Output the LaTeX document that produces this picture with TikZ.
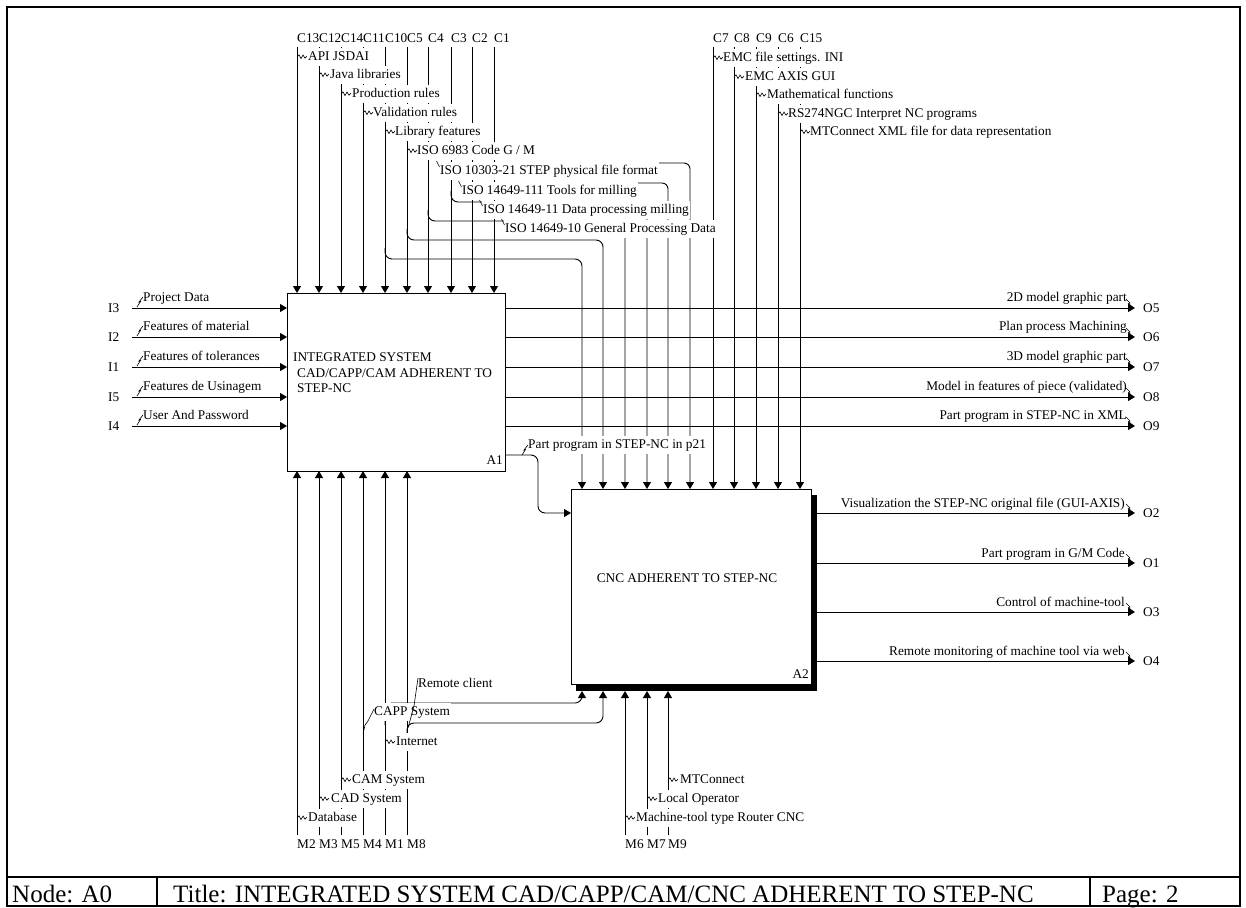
\documentclass[tikz,border=0pt]{standalone}
\usepackage{fontspec}
\setmainfont{Liberation Serif}
\usetikzlibrary{arrows.meta}
\begin{document}
\begin{tikzpicture}[x=1pt,y=-1pt,
  ln/.style={line width=0.9pt},
  arr/.style={ln,-{Triangle[length=7pt,width=8pt]}},
  txt/.style={font=\fontsize{13.3}{15}\selectfont, inner sep=0pt},
  lbl/.style={font=\fontsize{13.3}{15}\selectfont, fill=white, inner xsep=1pt, inner ysep=2pt, text height=10.5pt, text depth=3.5pt},
  foot/.style={font=\fontsize{25}{28}\selectfont, inner sep=0pt},
  sq/.style={line width=0.6pt},
  box/.style={draw, line width=1pt, fill=white, inner sep=0pt},
  zr/.pic={\draw[sq] (0,0) -- (2,-2.2) -- (4,1.6) -- (6,-2) -- (8,1.2) -- (10,-1);},
  zup/.pic={\draw[sq] (0,0) -- (3.5,-5.5) -- (2,-5) -- (6,-10);},
  zdn/.pic={\draw[sq] (0,0) -- (4,4) -- (2.5,4.5) -- (7,8.5);},
]
\useasboundingbox (0,0) rectangle (1246,907);

% ---------- sheet frame and footer ----------
\draw[line width=2pt] (7,7) rectangle (1240,906);
\draw[line width=2pt] (7,877) -- (1240,877);
\draw[line width=1.2pt] (157,877) -- (157,906) (1090,877) -- (1090,906);
\node[foot, anchor=base west] (fnode) at (12,902) {Node: A0};
\node[foot, anchor=base west] (ftitle) at (173,902) {Title: INTEGRATED SYSTEM CAD/CAPP/CAM/CNC ADHERENT TO STEP-NC};
\node[foot, anchor=base west] (fpage) at (1102,902) {Page: 2};

% ---------- activity boxes ----------
\node[box, minimum width=218pt, minimum height=178pt, anchor=north west] (A1) at (287,293) {};
\fill (576,495) rectangle (817,691);
\node[box, minimum width=240pt, minimum height=195pt, anchor=north west] (A2) at (571,489) {};

\node[txt, anchor=base west] (a1l1) at (293,361.5) {INTEGRATED SYSTEM};
\node[txt, anchor=base west] (a1l2) at (297,377) {CAD/CAPP/CAM ADHERENT TO};
\node[txt, anchor=base west] (a1l3) at (297,392.5) {STEP-NC};
\node[txt, anchor=base east] (a1id) at (503,464.5) {A1};
\node[txt] (a2t) at (687,578) {CNC ADHERENT TO STEP-NC};
\node[txt, anchor=base east] (a2id) at (809,678.5) {A2};

% ---------- controls ----------
\foreach \x/\t in {297/C13,319/C12,341/C14,363/C11,385/C10,407/C5,428/C4,451/C3,472/C2,494/C1,713/C7,734/C8,756/C9,778/C6,800/C15}
  \node[txt, anchor=base west] (hd\t) at (\x,42.5) {\t};
\foreach \x in {297,319,341,363,385,407,428,451,472,494}
  \draw[arr] (\x,47) -- (\x,293);
\foreach \x in {713,734,756,778,800}
  \draw[arr] (\x,47) -- (\x,489);

% branches of the controls towards A2
\draw[arr, rounded corners=7pt] (385,248) -- (385,259) -- (582,259) -- (582,489);
\draw[arr, rounded corners=7pt] (407,229) -- (407,240) -- (603,240) -- (603,489);
\draw[arr, rounded corners=7pt] (428,210) -- (428,221) -- (625,221) -- (625,489);
\draw[arr, rounded corners=7pt] (451,191) -- (451,202) -- (647,202) -- (647,489);
\draw[arr, rounded corners=6pt] (560,183) -- (668,183) -- (668,489);
\draw[arr, rounded corners=6pt] (560,163) -- (690,163) -- (690,489);

% control labels
\foreach \lx/\tx/\cy/\t in {297/308/56/{API JSDAI},319/330/74/{Java libraries},341/352/93/{Production rules},363/373/112/{Validation rules},385/395/131/{Library features},407/417/150/{ISO 6983 Code G / M},713/723/57/{EMC file settings. INI},734/745/76/{EMC AXIS GUI},756/767/94/{Mathematical functions},778/788/113/{RS274NGC Interpret NC programs},800/810/131/{MTConnect XML file for data representation}}
{
  \node[lbl, anchor=base west] at (\tx-1,\cy+4.5) {\t};
  \pic at (\lx,\cy+1) {zr};
}
\foreach \tx/\cy/\t in {440/170/{ISO 10303-21 STEP physical file format},462/190/{ISO 14649-111 Tools for milling},483/209/{ISO 14649-11 Data processing milling},505/228/{ISO 14649-10 General Processing Data}}
{
  \node[lbl, anchor=base west] at (\tx-1,\cy+4.5) {\t};
  \draw[sq] (\tx-3.5,\cy-9) -- (\tx-0.5,\cy-3);
}

% ---------- mechanisms ----------
\foreach \x/\t in {297/M2,319/M3,341/M5,363/M4,385/M1,407/M8,625/M6,647/M7,668/M9}
  \node[txt, anchor=base west] (hd\t) at (\x,848.5) {\t};
\foreach \x in {297,319,341,363,385,407}
  \draw[arr] (\x,835) -- (\x,471);
\foreach \x in {625,647,668}
  \draw[arr] (\x,835) -- (\x,691);
\draw[arr, rounded corners=7pt] (385,725) -- (385,703) -- (582,703) -- (582,691);
\draw[arr, rounded corners=7pt] (407,740) -- (407,723) -- (603,723) -- (603,691);

\foreach \lx/\tx/\cy/\t in {297/308/817/{Database},319/331/798/{CAD System},341/352/779/{CAM System},385/396/741/{Internet},668/680/779/{MTConnect},647/658/798/{Local Operator},625/636/817/{Machine-tool type Router CNC}}
{
  \node[lbl, anchor=base west] at (\tx-1,\cy+4.5) {\t};
  \pic at (\lx,\cy+1) {zr};
}
\node[lbl, anchor=base west] (capp) at (373,715.5) {CAPP System};
\draw[sq] (363,734) -- (365,725) -- (368,721) -- (374,709);
\node[lbl, anchor=base west] (remote) at (417,687.5) {Remote client};
\draw[sq] (418,678) -- (414,706) -- (408,728);

% ---------- inputs ----------
\foreach \y/\i/\t in {308/I3/{Project Data},337/I2/{Features of material},367/I1/{Features of tolerances},397/I5/{Features de Usinagem},426/I4/{User And Password}}
{
  \node[txt, anchor=base west] (in\i) at (108,\y+4) {\i};
  \draw[arr] (132,\y) -- (287,\y);
  \node[lbl, anchor=base west] at (142,\y-6.5) {\t};
  \pic at (137,\y-1) {zup};
}

% ---------- outputs of A1 ----------
\foreach \y/\o/\t in {308/O5/{2D model graphic part},337/O6/{Plan process Machining},367/O7/{3D model graphic part},397/O8/{Model in features of piece (validated)},426/O9/{Part program in STEP-NC in XML}}
{
  \draw[arr] (505,\y) -- (1135,\y);
  \node[txt, anchor=base west] (out\o) at (1143,\y+4) {\o};
  \node[lbl, anchor=base east] at (1128,\y-6.5) {\t};
  \pic at (1126,\y-9) {zdn};
}

% ---------- outputs of A2 ----------
\foreach \y/\o/\t in {513/O2/{Visualization the STEP-NC original file (GUI-AXIS)},563/O1/{Part program in G/M Code\ },612/O3/{Control of machine-tool},661/O4/{Remote monitoring of machine tool via web}}
{
  \draw[arr] (817,\y) -- (1135,\y);
  \node[txt, anchor=base west] (out\o) at (1143,\y+4) {\o};
  \node[lbl, anchor=base east] at (1126,\y-5.5) {\t};
  \pic at (1126,\y-9) {zdn};
}

% ---------- A1 to A2 ----------
\draw[arr, rounded corners=7pt] (A1.east |- 0,455) -- (538,455) -- (538,513) -- (A2.west |- 0,513);
\node[lbl, anchor=base west] (p21) at (527,448.5) {Part program in STEP-NC in p21};
\pic at (522,455) {zup};
\end{tikzpicture}
\end{document}
